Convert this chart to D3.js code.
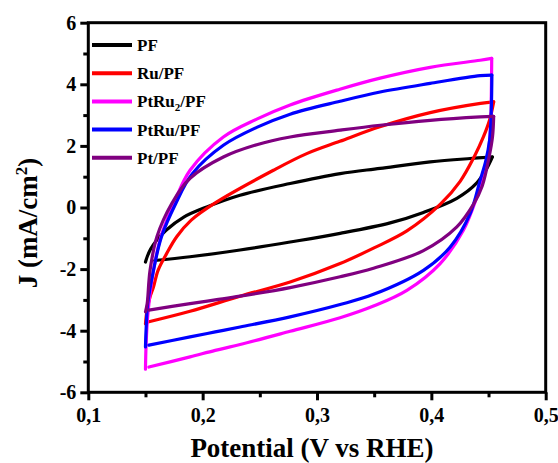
<!DOCTYPE html>
<html>
<head>
<meta charset="utf-8">
<script src="https://cdn.jsdelivr.net/npm/d3@7"></script>
<style>
  body { margin: 0; background: #fff; }
  text { font-family: "Liberation Serif", "Times New Roman", serif; font-weight: bold; }
</style>
</head>
<body>
<div id="chart"></div>
<script>
// x ticks / y ticks
const xTicks = [0.1, 0.2, 0.3, 0.4, 0.5];
const xMinor = [0.15, 0.25, 0.35, 0.45];
const yTicks = [-6, -4, -2, 0, 2, 4, 6];
const yMinor = [-5, -3, -1, 1, 3, 5];

const seriesNames = ["PF", "Ru/PF", "PtRu2/PF", "PtRu/PF", "Pt/PF"];
const seriesColors = ["#000000", "#ff0000", "#ff00ff", "#0000ff", "#800080"];

// [potential V, J mA/cm2], anodic sweep then cathodic sweep
const pfForward = [[0.150,-1.77],[0.1515,-1.6],[0.1545,-1.35],[0.159,-1.1],[0.168,-0.74],[0.1835,-0.31],[0.2036,0.02],[0.2327,0.40],[0.2765,0.78],[0.3203,1.10],[0.3552,1.27],[0.399,1.48],[0.434,1.59],[0.4533,1.64]];
const pfReverse = [[0.4533,1.64],[0.4486,1.28],[0.4398,0.80],[0.4223,0.30],[0.3931,-0.16],[0.364,-0.50],[0.3202,-0.84],[0.2765,-1.12],[0.2327,-1.38],[0.189,-1.60],[0.158,-1.72]];

const ruForward = [[0.150,-3.78],[0.1515,-3.3],[0.154,-2.9],[0.157,-2.58],[0.161,-2.04],[0.1686,-1.49],[0.1773,-0.95],[0.19,-0.41],[0.211,0.15],[0.2619,1.21],[0.291,1.75],[0.320,2.15],[0.355,2.62],[0.399,3.08],[0.443,3.38],[0.4545,3.43]];
const ruReverse = [[0.4545,3.43],[0.451,2.85],[0.4456,2.30],[0.4375,1.65],[0.4252,0.85],[0.4077,0.10],[0.3786,-0.76],[0.3494,-1.32],[0.3202,-1.82],[0.2765,-2.42],[0.2327,-2.88],[0.189,-3.37],[0.153,-3.71]];

const ptru2Forward = [[0.150,-5.25],[0.1505,-4.5],[0.152,-3.5],[0.157,-2.04],[0.1635,-0.95],[0.176,0.24],[0.189,1.21],[0.2181,2.29],[0.2473,2.87],[0.2765,3.33],[0.320,3.84],[0.3552,4.20],[0.399,4.55],[0.4427,4.78],[0.4528,4.84]];
const ptru2Reverse = [[0.4528,4.84],[0.4525,3.8],[0.452,2.8],[0.4505,2.0],[0.447,1.2],[0.4398,0.34],[0.428,-0.74],[0.4077,-1.82],[0.3786,-2.69],[0.3494,-3.2],[0.3202,-3.58],[0.2765,-4.02],[0.2327,-4.45],[0.211,-4.64],[0.189,-4.85],[0.153,-5.18]];

const ptruForward = [[0.150,-4.53],[0.1505,-4.0],[0.152,-3.1],[0.157,-2.04],[0.164,-0.95],[0.1765,0.13],[0.191,1.1],[0.2181,2.02],[0.2473,2.60],[0.2765,3.03],[0.3202,3.45],[0.3552,3.75],[0.399,4.03],[0.4427,4.28],[0.4529,4.30]];
const ptruReverse = [[0.4529,4.30],[0.4525,3.3],[0.451,2.2],[0.4475,1.5],[0.4427,0.89],[0.434,-0.19],[0.4165,-1.28],[0.3931,-2.04],[0.3494,-2.82],[0.3202,-3.15],[0.2765,-3.55],[0.2327,-3.88],[0.211,-4.04],[0.189,-4.20],[0.153,-4.47]];

const ptForward = [[0.150,-3.39],[0.1515,-3.12],[0.154,-2.04],[0.160,-0.95],[0.173,0.13],[0.189,0.95],[0.2181,1.64],[0.2473,2.04],[0.2765,2.29],[0.3202,2.51],[0.3552,2.67],[0.399,2.83],[0.4427,2.94],[0.4545,2.96]];
const ptReverse = [[0.4545,2.96],[0.4535,2.3],[0.4505,1.64],[0.4445,0.7],[0.4368,0.1],[0.4223,-0.63],[0.3931,-1.40],[0.3494,-1.97],[0.3202,-2.25],[0.2765,-2.60],[0.2327,-2.88],[0.211,-3.0],[0.189,-3.12],[0.153,-3.33]];

const seriesData = [
  [pfForward, pfReverse],
  [ruForward, ruReverse],
  [ptru2Forward, ptru2Reverse],
  [ptruForward, ptruReverse],
  [ptForward, ptReverse]
];

const width = 558, height = 463;
const margin = { left: 88.3, right: 12.3, top: 22.7, bottom: 70.7 };

const svg = d3.select("#chart").append("svg")
  .attr("width", width)
  .attr("height", height);

const x = d3.scaleLinear().domain([0.1, 0.5]).range([margin.left, width - margin.right]);
const y = d3.scaleLinear().domain([-6, 6]).range([height - margin.bottom, margin.top]);

const line = d3.line()
  .x(d => x(d[0]))
  .y(d => y(d[1]))
  .curve(d3.curveCatmullRom.alpha(0.5));

// curves
seriesData.forEach((segs, i) => {
  segs.forEach(seg => {
    svg.append("path")
      .datum(seg)
      .attr("d", line)
      .attr("fill", "none")
      .attr("stroke", seriesColors[i])
      .attr("stroke-width", 3.2)
      .attr("stroke-linecap", "round")
      .attr("stroke-linejoin", "round");
  });
});

// axes
const fmtX = d => d3.format(".1f")(d).replace(".", ",");
const xAxis = svg.append("g")
  .attr("transform", `translate(0,${y(-6)})`)
  .call(d3.axisBottom(x).tickValues(xTicks).tickSize(8).tickPadding(8).tickFormat(fmtX));
const xAxisMinor = svg.append("g")
  .attr("transform", `translate(0,${y(-6)})`)
  .call(d3.axisBottom(x).tickValues(xMinor).tickSize(5).tickFormat(""));
const yAxis = svg.append("g")
  .attr("transform", `translate(${x(0.1)},0)`)
  .call(d3.axisLeft(y).tickValues(yTicks).tickSize(8).tickPadding(4).tickFormat(d => String(d)));
const yAxisMinor = svg.append("g")
  .attr("transform", `translate(${x(0.1)},0)`)
  .call(d3.axisLeft(y).tickValues(yMinor).tickSize(5).tickFormat(""));

[xAxis, xAxisMinor, yAxis, yAxisMinor].forEach(g => {
  g.select(".domain").remove();
  g.selectAll(".tick line").attr("stroke", "#000").attr("stroke-width", 3);
  g.selectAll(".tick text")
    .attr("fill", "#000")
    .style("font-size", "20px")
    .style("font-family", "'Liberation Serif', serif")
    .style("font-weight", "bold");
});

// frame
svg.append("rect")
  .attr("x", x(0.1))
  .attr("y", y(6))
  .attr("width", x(0.5) - x(0.1))
  .attr("height", y(-6) - y(6))
  .attr("fill", "none")
  .attr("stroke", "#000")
  .attr("stroke-width", 3);

// axis titles
svg.append("text")
  .attr("x", 312)
  .attr("y", 457)
  .attr("text-anchor", "middle")
  .style("font-size", "27px")
  .text("Potential (V vs RHE)");

const yTitle = svg.append("text")
  .attr("transform", "translate(37,223) rotate(-90)")
  .attr("text-anchor", "middle")
  .style("font-size", "27px");
yTitle.append("tspan").text("J (mA/cm");
yTitle.append("tspan").attr("dy", -10).style("font-size", "17px").text("2");
yTitle.append("tspan").attr("dy", 10).text(")");

// legend
const legend = svg.append("g");
seriesNames.forEach((name, i) => {
  const ly = 45 + i * 28.2;
  legend.append("line")
    .attr("x1", 92).attr("x2", 132)
    .attr("y1", ly).attr("y2", ly)
    .attr("stroke", seriesColors[i])
    .attr("stroke-width", 4);
  const t = legend.append("text")
    .attr("x", 137)
    .attr("y", ly + 6)
    .style("font-size", "17px");
  if (name === "PtRu2/PF") {
    t.append("tspan").text("PtRu");
    t.append("tspan").attr("dy", 4).style("font-size", "11px").text("2");
    t.append("tspan").attr("dy", -4).text("/PF");
  } else {
    t.text(name);
  }
});
</script>
</body>
</html>
